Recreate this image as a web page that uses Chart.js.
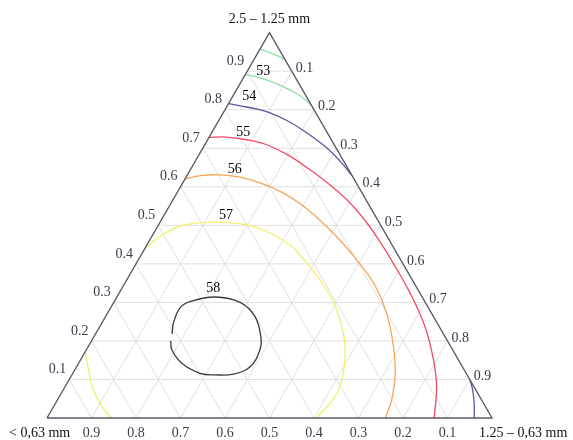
<!DOCTYPE html>
<html>
<head>
<meta charset="utf-8">
<script src="https://cdn.jsdelivr.net/npm/chart.js@4.4.1/dist/chart.umd.min.js"></script>
<style>
  html, body { margin: 0; padding: 0; background: #ffffff; }
  #wrap { width: 573px; height: 440px; }
</style>
</head>
<body>
<div id="wrap"><canvas id="tern" width="573" height="440"></canvas></div>
<script>
// Corner components of the ternary diagram
const apexName  = '2.5 \u2013 1.25 mm';
const leftName  = '< 0,63 mm';
const rightName = '1.25 \u2013 0,63 mm';

// Tick values on each side
const tickValues = [0.1, 0.2, 0.3, 0.4, 0.5, 0.6, 0.7, 0.8, 0.9];

// Contour levels that carry a label
const levels = [53, 54, 55, 56, 57, 58];

// Iso-lines as [top fraction, right fraction] pairs
const iso52 = [[0.958, 0.000], [0.951, 0.018], [0.945, 0.036], [0.937, 0.055], [0.930, 0.070]];
const iso53 = [[0.891, 0.000], [0.885, 0.029], [0.874, 0.064], [0.859, 0.102], [0.842, 0.140], [0.827, 0.166], [0.810, 0.190]];
const iso54a = [[0.816, 0.000], [0.807, 0.045], [0.795, 0.096], [0.772, 0.153], [0.746, 0.203], [0.705, 0.272], [0.666, 0.326], [0.629, 0.371]];
const iso54b = [[0.099, 0.901], [0.073, 0.920], [0.038, 0.941], [0.000, 0.960]];
const iso55 = [[0.728, 0.000], [0.729, 0.039], [0.722, 0.088], [0.709, 0.139], [0.682, 0.201], [0.644, 0.269], [0.605, 0.333],
               [0.558, 0.402], [0.506, 0.466], [0.457, 0.520], [0.402, 0.577], [0.324, 0.654], [0.237, 0.731], [0.151, 0.793],
               [0.081, 0.835], [0.000, 0.870]];
const iso56 = [[0.620, 0.000], [0.629, 0.030], [0.631, 0.073], [0.625, 0.121], [0.610, 0.174], [0.588, 0.230], [0.556, 0.291],
               [0.514, 0.356], [0.462, 0.427], [0.400, 0.503], [0.343, 0.566], [0.272, 0.627], [0.190, 0.683], [0.117, 0.724],
               [0.047, 0.751], [0.000, 0.760]];
const iso57a = [[0.436, 0.000], [0.471, 0.018], [0.497, 0.050], [0.507, 0.098], [0.507, 0.158], [0.499, 0.207], [0.480, 0.261],
                [0.449, 0.321], [0.423, 0.357], [0.392, 0.395], [0.346, 0.448], [0.291, 0.502], [0.220, 0.556], [0.168, 0.586],
                [0.099, 0.613], [0.052, 0.619], [0.000, 0.605]];
const iso57b = [[0.171, 0.000], [0.125, 0.031], [0.081, 0.061], [0.036, 0.102], [0.000, 0.144]];
const iso58 = [[0.218, 0.172], [0.246, 0.161], [0.286, 0.156], [0.302, 0.170], [0.314, 0.221], [0.300, 0.284], [0.263, 0.336],
               [0.211, 0.375], [0.177, 0.390], [0.133, 0.390], [0.114, 0.362], [0.112, 0.322], [0.116, 0.286], [0.142, 0.232],
               [0.177, 0.192], [0.200, 0.178]];

// ---- drawing setup ----
const H = Math.sqrt(3) / 2;
const toXY = ([t, r]) => ({ x: r + t / 2, y: t * H });

const style = {
  frame: '#5a5a68',
  grid: '#e0e0e0',
  tickText: '#3c3c4c',
  font: '14px "Liberation Serif", "Times New Roman", serif'
};

const isoStyle = [
  { data: iso52,  color: '#8fe0a4' },
  { data: iso53,  color: '#8fe0a4' },
  { data: iso54a, color: '#5858a0' },
  { data: iso54b, color: '#5858a0' },
  { data: iso55,  color: '#f04a66' },
  { data: iso56,  color: '#f5a55a' },
  { data: iso57a, color: '#f2f06a' },
  { data: iso57b, color: '#f2f06a' },
  { data: iso58,  color: '#3a3a3a' }
];

// anchor of each level label, [top, right]
const labelAt = [[0.900, 0.036], [0.835, 0.037], [0.742, 0.070], [0.644, 0.100], [0.527, 0.139], [0.337, 0.205]];

const datasets = [];

// outer triangle
datasets.push({
  data: [[0, 0], [0, 1], [1, 0], [0, 0]].map(toXY),
  showLine: true, borderColor: style.frame, borderWidth: 1.4,
  pointRadius: 0, tension: 0, order: 0
});

// contour lines
isoStyle.forEach(s => datasets.push({
  data: s.data.map(toXY),
  showLine: true, borderColor: s.color, borderWidth: 1.3,
  pointRadius: 0, tension: 0.4, order: 1
}));

// triangular grid
tickValues.forEach(f => {
  const lines = [
    [[f, 0], [f, 1 - f]],
    [[0, f], [1 - f, f]],
    [[0, 1 - f], [1 - f, 0]]
  ];
  lines.forEach(seg => datasets.push({
    data: seg.map(toXY),
    showLine: true, borderColor: style.grid, borderWidth: 1,
    pointRadius: 0, tension: 0, order: 2
  }));
});

const textPlugin = {
  id: 'ternaryText',
  afterDatasetsDraw(chart) {
    const { ctx } = chart;
    const sx = chart.scales.x, sy = chart.scales.y;
    const pos = (t, r) => {
      const p = toXY([t, r]);
      return [sx.getPixelForValue(p.x), sy.getPixelForValue(p.y)];
    };
    ctx.save();
    ctx.font = style.font;
    ctx.fillStyle = style.tickText;

    // left side: top fraction
    ctx.textAlign = 'right'; ctx.textBaseline = 'middle';
    tickValues.forEach(v => {
      const [px, py] = pos(v, 0);
      ctx.fillText(String(v), px - 3, py - 10);
    });
    // right side: right fraction
    ctx.textAlign = 'left';
    tickValues.forEach(v => {
      const [px, py] = pos(1 - v, v);
      ctx.fillText(String(v), px + 4, py - 3);
    });
    // bottom side: left fraction
    ctx.textAlign = 'center'; ctx.textBaseline = 'alphabetic';
    tickValues.forEach(v => {
      const [px, py] = pos(0, 1 - v);
      ctx.fillText(String(v), px, py + 19);
    });

    // corner names
    ctx.fillStyle = '#111111';
    const [ax, ay] = pos(1, 0);
    ctx.textAlign = 'center';
    ctx.fillText(apexName, ax, ay - 10);
    const [lx, ly] = pos(0, 0);
    ctx.textAlign = 'left';
    ctx.fillText(leftName, lx - 38, ly + 19);
    const [rx, ry] = pos(0, 1);
    ctx.fillText(rightName, rx - 13, ry + 19);

    // level labels
    ctx.fillStyle = '#000000';
    ctx.textAlign = 'center'; ctx.textBaseline = 'middle';
    levels.forEach((lv, i) => {
      const [px, py] = pos(labelAt[i][0], labelAt[i][1]);
      ctx.fillText(String(lv), px, py);
    });
    ctx.restore();
  }
};

// 445 px per unit of side length; triangle base from x=47 to x=492 at y=418
const unit = 445;
new Chart(document.getElementById('tern'), {
  type: 'scatter',
  data: { datasets },
  options: {
    responsive: false,
    animation: false,
    devicePixelRatio: 1,
    layout: { padding: 0 },
    plugins: { legend: { display: false }, tooltip: { enabled: false } },
    scales: {
      x: { type: 'linear', display: false, min: -47 / unit, max: (573 - 47) / unit },
      y: { type: 'linear', display: false, min: (418 - 440) / unit, max: 418 / unit }
    }
  },
  plugins: [textPlugin]
});
</script>
</body>
</html>
